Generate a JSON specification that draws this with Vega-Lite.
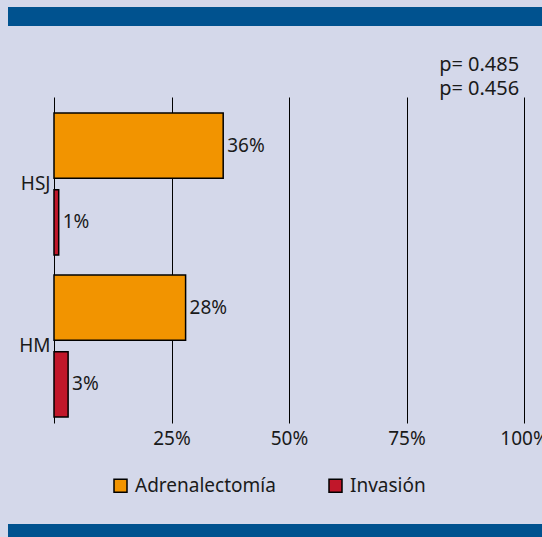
{
  "$schema": "https://vega.github.io/schema/vega-lite/v6.json",
  "background": "#d4d8ea",
  "padding": {"left": 8, "top": 7, "right": 0, "bottom": 0},
  "config": {"font": "Noto Sans", "view": {"stroke": null}},
  "spacing": 71,
  "bounds": "flush",
  "vconcat": [
    {
      "width": 534,
      "height": 19,
      "view": {"fill": "#00528f", "stroke": null},
      "data": {"values": [{}]},
      "mark": {"type": "point", "opacity": 0}
    },
    {
      "spacing": 101,
      "bounds": "flush",
      "vconcat": [
        {
          "width": 534,
          "height": 326,
          "title": {
            "text": ["p= 0.485", "p= 0.456"],
            "anchor": "end",
            "fontSize": 20,
            "fontWeight": "normal",
            "color": "#1a1a1a",
            "lineHeight": 24,
            "dx": -29,
            "offset": -22,
            "baseline": "bottom"
          },
          "data": {
            "values": [
              {"hospital": "HSJ", "serie": "Adrenalectomía", "value": 0.36},
              {"hospital": "HSJ", "serie": "Invasión", "value": 0.01},
              {"hospital": "HM", "serie": "Adrenalectomía", "value": 0.28},
              {"hospital": "HM", "serie": "Invasión", "value": 0.03}
            ]
          },
          "encoding": {
            "y": {
              "field": "hospital",
              "type": "nominal",
              "sort": ["HSJ", "HM"],
              "scale": {"paddingInner": 0.123, "paddingOuter": 0.068, "align": 0.73},
              "axis": {
                "title": null,
                "offset": -46,
                "domainColor": "#000",
                "domainWidth": 1,
                "ticks": false,
                "labelFontSize": 19,
                "labelColor": "#1a1a1a",
                "labelPadding": 4
              }
            },
            "yOffset": {
              "field": "serie",
              "type": "nominal",
              "sort": ["Adrenalectomía", "Invasión"],
              "scale": {"paddingInner": 0.15, "paddingOuter": 0}
            },
            "x": {
              "field": "value",
              "type": "quantitative",
              "scale": {"domain": [0, 1], "range": [46, 516], "nice": false},
              "axis": {
                "title": null,
                "values": [0.25, 0.5, 0.75, 1],
                "format": ".0%",
                "grid": true,
                "gridColor": "#000",
                "gridWidth": 1,
                "gridOpacity": 1,
                "domain": false,
                "ticks": false,
                "labelFlush": false,
                "labelFontSize": 19,
                "labelColor": "#1a1a1a",
                "labelPadding": 6
              }
            }
          },
          "layer": [
            {
              "mark": {"type": "bar", "stroke": "#000", "strokeWidth": 1.5},
              "encoding": {
                "color": {
                  "field": "serie",
                  "type": "nominal",
                  "scale": {"domain": ["Adrenalectomía", "Invasión"], "range": ["#f29400", "#c1172a"]},
                  "legend": {
                    "title": null,
                    "orient": "none",
                    "legendX": 103,
                    "legendY": 469,
                    "direction": "horizontal",
                    "symbolType": "square",
                    "symbolSize": 169,
                    "symbolStrokeColor": "#000",
                    "symbolStrokeWidth": 1.5,
                    "symbolOpacity": 1,
                    "labelFontSize": 19,
                    "labelColor": "#1a1a1a",
                    "labelOffset": 5,
                    "columnPadding": 50,
                    "labelLimit": 300
                  }
                }
              }
            },
            {
              "mark": {"type": "text", "align": "left", "baseline": "middle", "dx": 4, "fontSize": 19, "color": "#1a1a1a"},
              "encoding": {"text": {"field": "value", "type": "quantitative", "format": ".0%"}}
            }
          ]
        },
        {
          "width": 534,
          "height": 13,
          "view": {"fill": "#00528f", "stroke": null},
          "data": {"values": [{}]},
          "mark": {"type": "point", "opacity": 0}
        }
      ]
    }
  ]
}
